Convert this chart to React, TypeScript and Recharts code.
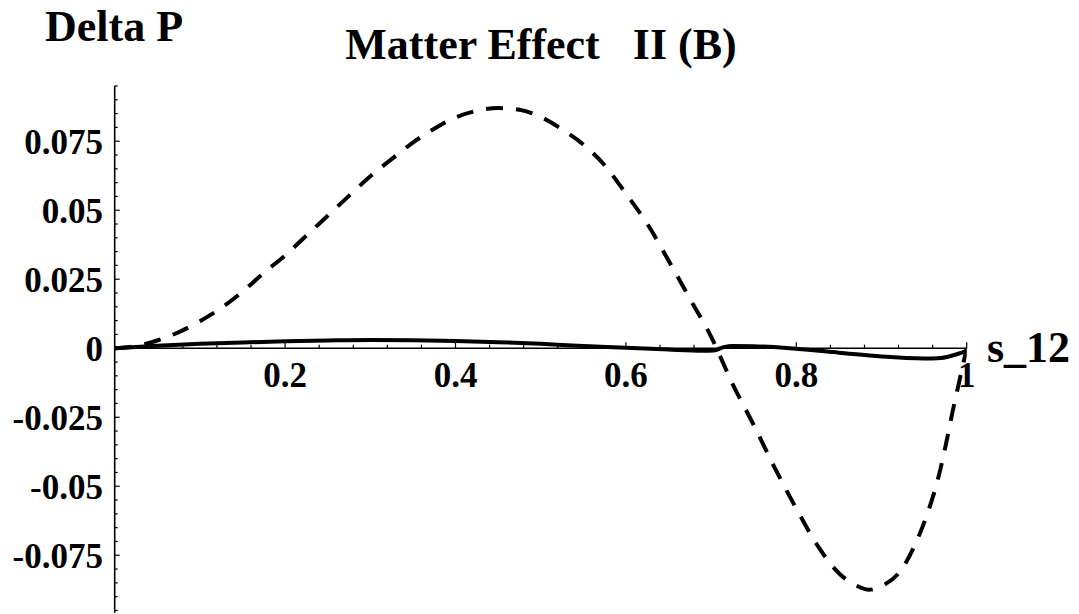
import { LineChart, Line, XAxis, YAxis, ReferenceLine } from "recharts";

// dashed curve
const dashedS = [
  0, 0.025, 0.05, 0.075, 0.1, 0.125, 0.15, 0.175, 0.2, 0.225, 0.25, 0.275, 0.3,
  0.325, 0.35, 0.375, 0.4, 0.425, 0.45, 0.475, 0.5, 0.525, 0.55, 0.575, 0.6,
  0.625, 0.65, 0.675, 0.7, 0.725, 0.75, 0.775, 0.8, 0.825, 0.85, 0.875, 0.885,
  0.9, 0.925, 0.94, 0.954, 0.966, 0.975, 0.983, 0.99, 1,
];
const dashedV = [
  0, 0.0008, 0.0028, 0.0058, 0.0098, 0.0146, 0.0205, 0.0273, 0.0336, 0.0408,
  0.048, 0.0552, 0.0623, 0.0685, 0.0745, 0.0795, 0.0836, 0.086, 0.087, 0.0864,
  0.0838, 0.0793, 0.0738, 0.0663, 0.056, 0.0451, 0.0318, 0.018, 0.0042,
  -0.0128, -0.0278, -0.0435, -0.0581, -0.0715, -0.0815, -0.0866, -0.0875,
  -0.0862, -0.0795, -0.0707, -0.0598, -0.0477, -0.0357, -0.0236, -0.0138, 0,
];

// solid curve
const solidS = [
  0, 0.05, 0.1, 0.15, 0.2, 0.25, 0.3, 0.35, 0.4, 0.45, 0.5, 0.55, 0.6, 0.65,
  0.69, 0.703, 0.715, 0.725, 0.75, 0.8, 0.85, 0.9, 0.95, 0.97, 0.99, 1,
];
const solidV = [
  0, 0.0009, 0.0016, 0.0021, 0.0025, 0.0028, 0.003, 0.0029, 0.0026, 0.0022,
  0.0016, 0.0008, 0.0002, -0.0005, -0.0009, -0.0008, 0.0004, 0.0008, 0.0007,
  -0.0002, -0.0016, -0.003, -0.0037, -0.0035, -0.002, -0.001,
];

const xTicks = [
  0, 0.04, 0.08, 0.12, 0.16, 0.2, 0.24, 0.28, 0.32, 0.36, 0.4, 0.44, 0.48,
  0.52, 0.56, 0.6, 0.64, 0.68, 0.72, 0.76, 0.8, 0.84, 0.88, 0.92, 0.96, 1,
];
const xMajor = [0.2, 0.4, 0.6, 0.8, 1];
const xLabels = ["0.2", "0.4", "0.6", "0.8", "1"];

const yTicks = Array.from({ length: 39 }, (_, i) => (i - 19) / 200);
const yMajor = [0.075, 0.05, 0.025, 0, -0.025, -0.05, -0.075];
const yLabels = ["0.075", "0.05", "0.025", "0", "-0.025", "-0.05", "-0.075"];

const dashedData = dashedS.map((s, i) => ({ s, v: dashedV[i] }));
const solidData = solidS.map((s, i) => ({ s, v: solidV[i] }));

const W = 1079;
const H = 614;
const TOP = 85.7;
const PLOT_BOTTOM = 612.7;
const AXIS_X = 114.7;
const Y_MIN = -0.0958;
const Y_MAX = 0.0951;
const ZERO_Y = TOP + (Y_MAX / (Y_MAX - Y_MIN)) * (PLOT_BOTTOM - TOP);
const FONT = "'Liberation Serif', 'Times New Roman', serif";

const findIdx = (arr: number[], v: number) =>
  arr.findIndex((m) => Math.abs(m - v) < 1e-9);

const XTick = (props: any) => {
  const { x, payload } = props;
  const i = findIdx(xMajor, payload.value);
  return (
    <g>
      <line
        x1={x}
        x2={x}
        y1={ZERO_Y}
        y2={ZERO_Y - (i >= 0 ? 6 : 3.5)}
        stroke="#000"
        strokeWidth={1.2}
      />
      {i >= 0 && (
        <text
          x={x}
          y={386.7}
          textAnchor="middle"
          fontFamily={FONT}
          fontWeight="bold"
          fontSize={35}
          fill="#000"
        >
          {xLabels[i]}
        </text>
      )}
    </g>
  );
};

const YTick = (props: any) => {
  const { y, payload } = props;
  const i = findIdx(yMajor, payload.value);
  return (
    <g>
      <line
        x1={AXIS_X}
        x2={AXIS_X + (i >= 0 ? 5 : 3)}
        y1={y}
        y2={y}
        stroke="#000"
        strokeWidth={1.2}
      />
      {i >= 0 && (
        <text
          x={103}
          y={y + 12.5}
          textAnchor="end"
          fontFamily={FONT}
          fontWeight="bold"
          fontSize={35}
          fill="#000"
        >
          {yLabels[i]}
        </text>
      )}
    </g>
  );
};

export default function App() {
  return (
    <div
      style={{
        position: "absolute",
        left: 0,
        top: 0,
        width: W,
        height: H,
        background: "#fff",
      }}
    >
      <LineChart
        width={W}
        height={H}
        margin={{ top: TOP, right: W - 966.7, bottom: H - PLOT_BOTTOM - 1, left: AXIS_X - 100 }}
      >
        <XAxis
          dataKey="s"
          type="number"
          domain={[0, 1]}
          ticks={xTicks}
          interval={0}
          height={1}
          axisLine={false}
          tickLine={false}
          tick={<XTick />}
          allowDataOverflow
        />
        <YAxis
          type="number"
          domain={[Y_MIN, Y_MAX]}
          ticks={yTicks}
          interval={0}
          width={100}
          axisLine={{ stroke: "#000", strokeWidth: 1.6 }}
          tickLine={false}
          tickSize={0}
          tick={<YTick />}
          allowDataOverflow
        />
        <ReferenceLine y={0} stroke="#000" strokeWidth={1.6} />
        <Line
          data={dashedData}
          dataKey="v"
          type="monotone"
          stroke="#000"
          strokeWidth={4}
          strokeDasharray="17 13"
          dot={false}
          activeDot={false}
          isAnimationActive={false}
        />
        <Line
          data={solidData}
          dataKey="v"
          type="monotone"
          stroke="#000"
          strokeWidth={4}
          dot={false}
          activeDot={false}
          isAnimationActive={false}
        />
      </LineChart>
      <svg
        width={W}
        height={H}
        style={{ position: "absolute", left: 0, top: 0, pointerEvents: "none" }}
      >
        <g fontFamily={FONT} fontWeight="bold" fontSize={44} fill="#000">
          <text x={45} y={40.7}>
            Delta P
          </text>
          <text x={541} y={59} textAnchor="middle" style={{ whiteSpace: "pre" }}>
            {"Matter Effect   II (B)"}
          </text>
          <text x={987} y={361.7}>
            s_12
          </text>
        </g>
      </svg>
    </div>
  );
}
